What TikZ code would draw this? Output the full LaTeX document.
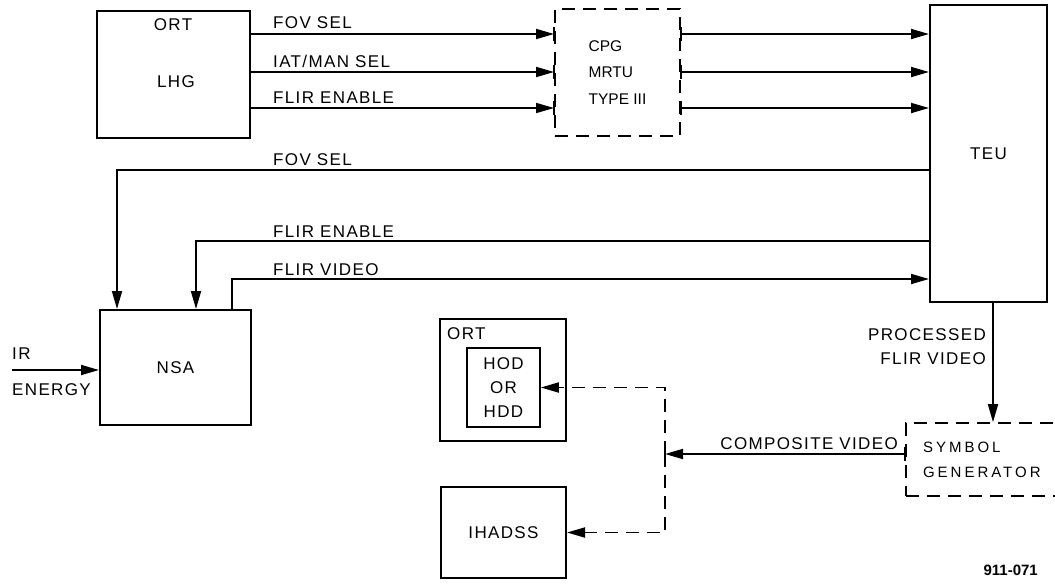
\documentclass[tikz,border=0pt]{standalone}
\usepackage{fontspec}
\setmainfont{Liberation Sans}
\usetikzlibrary{
    arrows.meta,
    positioning,
    calc
}
\newcommand{\lbl}{\fontsize{17}{20}\selectfont\addfontfeature{LetterSpace=8}}
\tikzset{
  box/.style   = {draw, line width=2pt, align=center, inner sep=0pt,
                  font=\lbl},
  dbox/.style  = {box, dash pattern=on 13pt off 8pt},
  arr/.style   = {-{Triangle[length=18pt,width=10pt]}, line width=1.8pt},
  darr/.style  = {arr, dash pattern=on 13pt off 8pt},
  lab/.style   = {anchor=base west, inner sep=0pt, font=\lbl},
  tck/.style   = {line width=2pt}
}

\begin{document}
\begin{tikzpicture}[x=1pt, y=-1pt]
          \useasboundingbox (0,0) rectangle (1055,584);
          % boxes
          \node[box, minimum width=153pt, minimum height=127pt] (lhg) at (173.5,74.5) {};
          \node[font=\lbl] (lhgort) at (173,25) {ORT};
          \node[font=\lbl] (lhgname) at (176,82) {LHG};
          \node[dbox, minimum width=125pt, minimum height=127pt, align=left,
                font=\fontsize{15.5}{26.5}\selectfont] (cpg) at (617.5,72.5)
               {CPG\\MRTU\\TYPE III};
          \node[box, minimum width=117pt, minimum height=297pt] (teu) at (988.5,153.5) {TEU};
          \node[box, minimum width=151pt, minimum height=115pt] (nsa) at (175.5,367.5) {NSA};
          \node[box, minimum width=126pt, minimum height=122pt] (ort) at (503,380) {};
          \node[font=\lbl, anchor=north west, inner sep=0pt] (ortname)
               at ([xshift=8pt,yshift=-9pt]ort.north west) {ORT};
          \node[box, line width=1.6pt, minimum width=73pt, minimum height=79pt,
                font=\fontsize{17}{24}\selectfont\addfontfeature{LetterSpace=8}] (hod)
               at (503.5,387.5) {HOD\\OR\\HDD};
          \node[box, minimum width=125pt, minimum height=91pt] (ihadss) at (503.5,532.5) {IHADSS};
          % right side of this box runs off the page
          \node[dbox, line width=1.6pt, text width=150pt, inner xsep=17pt,
                minimum height=73pt, align=left,
                font=\fontsize{15}{25}\selectfont\addfontfeature{LetterSpace=20}] (symgen)
               at (998,459.5) {SYMBOL\\GENERATOR};
          % signal rows
          \coordinate (f1) at (0,34);
          \coordinate (f2) at (0,72);
          \coordinate (f3) at (0,108);
          \coordinate (r1) at (0,170);
          \coordinate (r2) at (0,241);
          \coordinate (r3) at (0,279);
          \coordinate (ir) at (12,370);
          \coordinate (pv) at (993,0);
          \coordinate (j) at (665,454);
          % LHG to CPG to TEU
          \foreach \c in {f1,f2,f3} {
            \draw[arr] (lhg.east |- \c) -- (cpg.west |- \c);
            \draw[arr] (cpg.east |- \c) -- (teu.west |- \c);
            \draw[tck] ($(cpg.west |- \c)+(0,-7)$) -- ++(0,14);
            \draw[tck] ($(cpg.east |- \c)+(0,-7)$) -- ++(0,14);
          }
          \node[lab] at (273,28) {FOV SEL};
          \node[lab] at (273,67) {IAT/MAN SEL};
          \node[lab] at (273,103) {FLIR ENABLE};
          % TEU and NSA
          \draw[arr] (teu.west |- r1) -| ([xshift=18pt]nsa.north west);
          \draw[arr] (teu.west |- r2) -| ([xshift=97pt]nsa.north west);
          \draw[arr] ([xshift=133pt]nsa.north west) |- (teu.west |- r3);
          \node[lab] at (273,165) {FOV SEL};
          \node[lab] at (273,237) {FLIR ENABLE};
          \node[lab] at (273,275) {FLIR VIDEO};
          \draw[arr] (ir) -- (nsa.west |- ir);
          \node[lab] at (12,359) {IR};
          \node[lab] at (12,395) {ENERGY};
          % video path
          \draw[arr] (teu.south -| pv) -- (symgen.north -| pv);
          \node[font=\lbl, align=right, anchor=east, inner sep=0pt] (pvlab)
               at (986,347) {PROCESSED\\[4pt]FLIR VIDEO};
          \draw[arr] (symgen.west |- j) -- node[pos=0.4, above=3pt, inner sep=0pt, font=\lbl]
               {COMPOSITE VIDEO} (j);
          \draw[tck] ($(symgen.west |- j)+(0,-7)$) -- ++(0,14);
          \draw[tck] ($(j)+(0,-7)$) -- ++(0,14);
          \draw[darr] (j) |- (hod.east);
          \draw[darr] (j) |- (ihadss.east);
          \node[font=\bfseries\fontsize{15}{18}\selectfont, anchor=base east, inner sep=0pt]
               (fignum) at (1038,575) {911-071};
        \end{tikzpicture}
\end{document}
